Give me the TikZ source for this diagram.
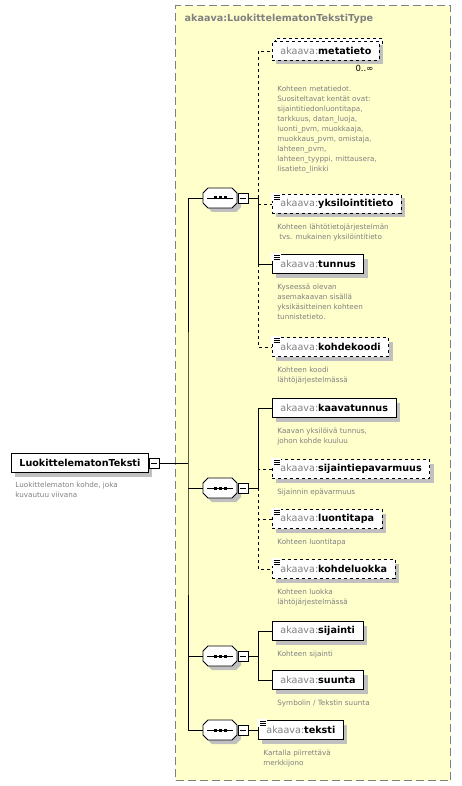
\documentclass[tikz,border=0pt]{standalone}
\usepackage{fontspec}
\setmainfont{DejaVu Sans}
\usepackage{tikz}
\usetikzlibrary{positioning,shadows,calc}
\definecolor{typebg}{HTML}{FFFFCC}
\definecolor{typeline}{HTML}{808080}
\definecolor{desccol}{HTML}{808080}
\definecolor{nscol}{HTML}{808080}
\definecolor{shadowcol}{HTML}{C0C0C0}
\newcommand{\el}[1]{{\color{nscol}akaava:}\textbf{#1}}

\begin{document}
\begin{tikzpicture}[x=1pt, y=-1pt, line width=0.8pt,
  typebox/.style={draw=typeline, fill=typebg, line width=1.2pt, dash pattern=on 8pt off 4pt, anchor=north west, inner sep=0pt},
  elbox/.style={draw, fill=white, anchor=west, minimum height=19pt, inner xsep=8pt, inner ysep=0pt, font=\fontsize{9.6}{11}\selectfont},
  elem/.style={elbox, drop shadow={shadow xshift=4pt, shadow yshift=-4pt, fill=shadowcol, opacity=1}},
  optelem/.style={elem, dashed},
  desc/.style={inner sep=0pt, align=left, text=desccol, font=\fontsize{7.2}{10}\selectfont},
  seqnode/.style={minimum width=34pt, minimum height=20pt, inner sep=0pt},
  minusbox/.style={draw, fill=white, minimum size=10pt, inner sep=0pt,
    path picture={\draw ([xshift=2pt]path picture bounding box.west) -- ([xshift=-2pt]path picture bounding box.east);}},
  optlink/.style={dashed}
]
  \useasboundingbox (0,0) rectangle (461,786);

  % complex type
  \node[typebox, minimum width=275pt, minimum height=775pt] (ctype) at (175,5) {};
  \node[anchor=west, text=nscol, font=\fontsize{9.6}{11}\selectfont\bfseries] (ctitle) at (181,19) {akaava:LuokittelematonTekstiType};

  % root element
  \node[elem] (root) at (11,463) {\textbf{LuokittelematonTeksti}};
  \node[minusbox, right=0pt of root] (rootm) {};
  \node[desc, below right=9pt and 4pt of root.south west] {Luokittelematon kohde, joka\\kuvautuu viivana};

  % sequences
  \foreach \n/\y in {1/198, 2/488, 3/656, 4/730}{
    \fill[shadowcol, shift={(4,4)}] (208,\y-10) -- (232,\y-10) -- (237,\y-5) -- (237,\y+5) -- (232,\y+10) -- (208,\y+10) -- (203,\y+5) -- (203,\y-5) -- cycle;
    \filldraw[fill=white] (208,\y-10) -- (232,\y-10) -- (237,\y-5) -- (237,\y+5) -- (232,\y+10) -- (208,\y+10) -- (203,\y+5) -- (203,\y-5) -- cycle;
    \draw (207,\y) -- (233,\y);
    \foreach \dx in {215,220,225}
      \fill (\dx-1.5,\y-1.5) rectangle ++(3,3);
    \node[seqnode] (s\n) at (220,\y) {};
    \node[minusbox] (m\n) at (243,\y) {};
  }
  \coordinate (j1) at (258,198);
  \coordinate (j2) at (258,488);
  \coordinate (j3) at (258,656);
  \coordinate (trunk) at (188,463);

  % sequence 1
  \node[elbox, dashed] (metaback) at (275,48) {\phantom{\el{metatieto}}};
  \node[optelem] (meta) at (272,51) {\el{metatieto}};
  \node[below left=4pt and 6pt of meta.south east, inner sep=0pt, font=\fontsize{8.5}{9}\selectfont] (metaocc) {0..∞};
  \node[desc, below right=25pt and 5pt of meta.south west] {Kohteen metatiedot.\\Suositeltavat kentät ovat:\\sijaintitiedonluontitapa,\\tarkkuus, datan\_luoja,\\luonti\_pvm, muokkaaja,\\muokkaus\_pvm, omistaja,\\lahteen\_pvm,\\lahteen\_tyyppi, mittausera,\\lisatieto\_linkki};
  \node[optelem] (yks) at (272,204) {\el{yksilointitieto}};
  \node[desc, below right=10pt and 5pt of yks.south west] {Kohteen lähtötietojärjestelmän\\\hspace{2pt}tvs. mukainen yksilöintitieto};
  \node[elem] (tunnus) at (272,264) {\el{tunnus}};
  \node[desc, below right=10pt and 5pt of tunnus.south west] {Kyseessä olevan\\asemakaavan sisällä\\yksikäsitteinen kohteen\\tunnistetieto.};
  \node[optelem] (kohdekoodi) at (272,347) {\el{kohdekoodi}};
  \node[desc, below right=10pt and 5pt of kohdekoodi.south west] {Kohteen koodi\\lähtöjärjestelmässä};

  % sequence 2
  \node[elem] (kaava) at (272,408) {\el{kaavatunnus}};
  \node[desc, below right=10pt and 5pt of kaava.south west] {Kaavan yksilöivä tunnus,\\johon kohde kuuluu};
  \node[optelem] (sijepv) at (272,469) {\el{sijaintiepavarmuus}};
  \node[desc, below right=10pt and 5pt of sijepv.south west] {Sijainnin epävarmuus};
  \node[optelem] (luontitapa) at (272,519) {\el{luontitapa}};
  \node[desc, below right=10pt and 5pt of luontitapa.south west] {Kohteen luontitapa};
  \node[optelem] (kohdeluokka) at (272,569) {\el{kohdeluokka}};
  \node[desc, below right=10pt and 5pt of kohdeluokka.south west] {Kohteen luokka\\lähtöjärjestelmässä};

  % sequence 3
  \node[elem] (sijainti) at (272,631) {\el{sijainti}};
  \node[desc, below right=10pt and 5pt of sijainti.south west] {Kohteen sijainti};
  \node[elem] (suunta) at (272,680) {\el{suunta}};
  \node[desc, below right=10pt and 5pt of suunta.south west] {Symbolin / Tekstin suunta};

  % sequence 4
  \node[elem] (teksti) at (258,730) {\el{teksti}};
  \node[desc, below right=10pt and 5pt of teksti.south west] {Kartalla piirrettävä\\merkkijono};

  % simple type icons
  \foreach \n in {yks, tunnus, kohdekoodi, sijepv, luontitapa, kohdeluokka, teksti}{
    \fill[white] ([shift={(-1,-1)}]\n.north west) rectangle ++(10,8);
    \foreach \dy in {1,3,5}
      \draw[line width=0.6pt] ([shift={(2,\dy)}]\n.north west) -- ++(6,0);
  }

  % connectors
  \draw (rootm) -- (trunk);
  \draw (s1.west) -| (trunk) |- (s4.west);
  \draw (s2.west) -- (s2.west -| trunk);
  \draw (s3.west) -- (s3.west -| trunk);

  \draw (m1) -- (j1);
  \draw (j1) |- (tunnus.west);
  \draw[optlink] (j1) |- (meta.west);
  \draw[optlink] (j1) |- (yks.west);
  \draw[optlink] (tunnus.west -| j1) |- (kohdekoodi.west);

  \draw (m2) -- (j2);
  \draw (j2) |- (kaava.west);
  \draw[optlink] (j2) |- (sijepv.west);
  \draw[optlink] (j2) |- (luontitapa.west);
  \draw[optlink] (j2) |- (kohdeluokka.west);

  \draw (m3) -- (j3);
  \draw (j3) |- (sijainti.west);
  \draw (j3) |- (suunta.west);

  \draw (m4) -- (teksti);
\end{tikzpicture}
\end{document}
